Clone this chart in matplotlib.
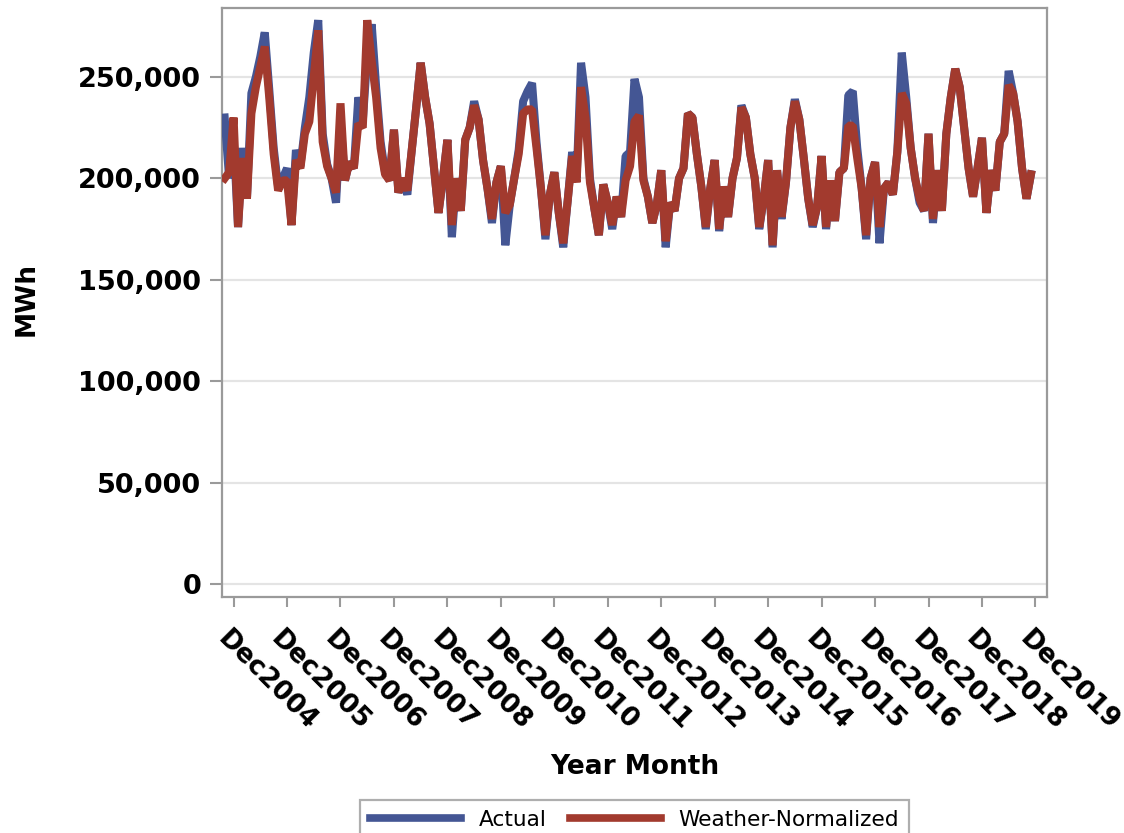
import numpy as np
import pandas as pd
import matplotlib
matplotlib.use("Agg")
import matplotlib.pyplot as plt
from matplotlib.ticker import FuncFormatter
from matplotlib.transforms import ScaledTranslation

# monthly sales, thousands of MWh, Oct 2004 .. Nov 2019
actual_k = [
    230, 200, 220,
    176, 215, 190, 242, 250, 260, 272, 244, 215, 196, 200, 205,
    177, 214, 206, 225, 240, 262, 278, 222, 207, 200, 188, 228,
    199, 208, 205, 240, 228, 260, 276, 245, 218, 203, 199, 224,
    193, 200, 192, 214, 235, 257, 240, 227, 205, 183, 200, 219,
    171, 200, 184, 219, 225, 238, 229, 209, 195, 178, 198, 206,
    167, 187, 200, 214, 238, 243, 247, 218, 195, 170, 192, 203,
    183, 166, 189, 213, 200, 257, 240, 200, 185, 172, 197, 188,
    175, 191, 181, 211, 213, 249, 240, 200, 191, 178, 187, 204,
    166, 188, 184, 200, 205, 232, 230, 212, 196, 175, 195, 209,
    174, 196, 181, 200, 210, 236, 230, 212, 200, 175, 190, 209,
    166, 204, 180, 198, 225, 239, 229, 210, 190, 176, 186, 211,
    175, 199, 179, 203, 205, 241, 243, 215, 195, 170, 200, 208,
    168, 195, 198, 192, 213, 262, 240, 215, 200, 188, 184, 222,
    178, 204, 184, 222, 240, 254, 245, 225, 205, 191, 205, 220,
    183, 204, 194, 218, 222, 253, 242, 228, 205, 190, 202,
]
normalized_k = [
    200, 203, 230,
    176, 210, 190, 232, 245, 255, 265, 240, 212, 194, 199, 199,
    177, 209, 205, 222, 228, 250, 273, 218, 206, 200, 193, 237,
    199, 208, 205, 227, 225, 278, 258, 240, 215, 202, 199, 224,
    193, 200, 194, 214, 235, 257, 240, 227, 205, 183, 200, 219,
    177, 200, 184, 219, 225, 236, 229, 209, 195, 180, 198, 206,
    183, 187, 200, 212, 232, 234, 234, 215, 195, 172, 192, 203,
    183, 168, 189, 211, 198, 245, 230, 198, 185, 172, 197, 188,
    177, 191, 181, 199, 206, 228, 231, 199, 191, 178, 187, 204,
    169, 188, 184, 200, 205, 232, 230, 212, 196, 176, 195, 209,
    175, 196, 181, 200, 210, 235, 230, 212, 200, 176, 190, 209,
    167, 204, 181, 198, 225, 238, 229, 210, 190, 177, 186, 211,
    176, 199, 179, 203, 205, 226, 226, 210, 195, 172, 200, 208,
    176, 195, 198, 192, 213, 242, 237, 215, 200, 190, 184, 222,
    180, 204, 184, 222, 240, 254, 245, 225, 205, 191, 205, 220,
    183, 204, 194, 218, 222, 246, 242, 228, 205, 190, 202,
]
start = pd.Period("2004-10", freq="M")
months = pd.period_range(start, periods=len(actual_k), freq="M")
tick_months = pd.period_range("2004-12", "2019-12", freq="M")[::12]

actual = np.array(actual_k) * 1000
normalized = np.array(normalized_k) * 1000
x = np.arange(len(months))

blue = "#445694"
red = "#A23A2E"
frame_gray = "#9a9a9a"

fig = plt.figure(figsize=(11.24, 8.33), dpi=100)
ax = fig.add_axes([222 / 1124, 1 - 597 / 833, 825 / 1124, 589 / 833])

ax.plot(x, actual, color=blue, lw=5.8, solid_joinstyle="bevel", label="Actual", zorder=3)
ax.plot(x, normalized, color=red, lw=5.8, solid_joinstyle="bevel", label="Weather-Normalized", zorder=4)

ax.set_ylim(-6400, 284000)
ax.set_xlim(-0.6, 184.6)
ax.set_yticks(np.arange(0, 250001, 50000))
ax.yaxis.set_major_formatter(FuncFormatter(lambda v, p: f"{int(v):,}"))
ax.grid(axis="y", color="#e4e4e4", lw=1.6, zorder=0)

tick_pos = [(p - start).n for p in tick_months]
ax.set_xticks(tick_pos)
ax.set_xticklabels([p.strftime("%b%Y") for p in tick_months])

for s in ax.spines.values():
    s.set_color(frame_gray)
    s.set_linewidth(1.6)

ax.tick_params(axis="y", length=9, width=1.5, color=frame_gray, pad=6,
               labelsize=19.5)
ax.tick_params(axis="x", length=7.5, width=1.5, color=frame_gray, pad=13,
               labelsize=19)
for lab in ax.get_yticklabels():
    lab.set_fontweight("bold")
off = ScaledTranslation(-0.03, 0, fig.dpi_scale_trans)
for lab in ax.get_xticklabels():
    lab.set_fontweight("bold")
    lab.set_rotation(-45)
    lab.set_ha("left")
    lab.set_va("top")
    lab.set_rotation_mode("anchor")
    lab.set_transform(lab.get_transform() + off)

ax.set_xlabel("Year Month", fontsize=19, fontweight="bold", va="center")
ax.xaxis.set_label_coords(0.5, -(767 - 597) / 589)
ax.set_ylabel("MWh", fontsize=19, fontweight="bold", va="center")
ax.yaxis.set_label_coords((27 - 222) / 825, (597 - 299) / 589)

leg = fig.legend(loc="upper center", bbox_to_anchor=(634.5 / 1124, 1 - 800 / 833),
                 ncol=2, fontsize=15.6, frameon=True, fancybox=False,
                 handlelength=4.2, handletextpad=0.8, columnspacing=1.1,
                 borderpad=0.45, borderaxespad=0)
leg.get_frame().set_edgecolor(frame_gray)
leg.get_frame().set_linewidth(1.6)
for line in leg.get_lines():
    line.set_linewidth(5.5)

fig.savefig("out.png", dpi=100)
